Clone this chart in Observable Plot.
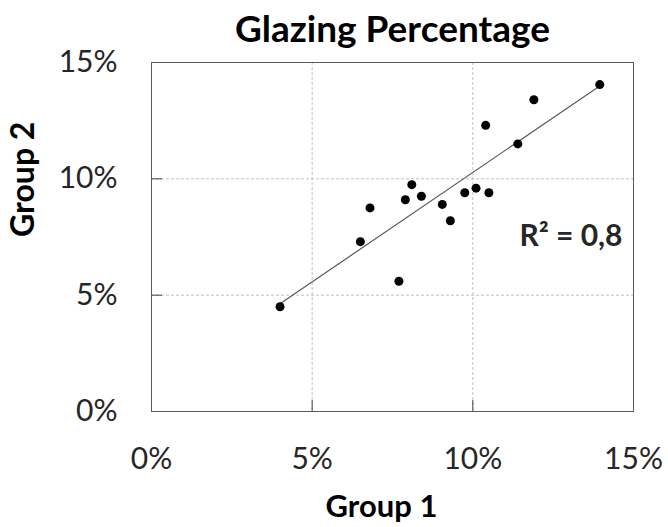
<!DOCTYPE html>
<html>
<head>
<meta charset="utf-8">
<script src="https://cdn.jsdelivr.net/npm/d3@7"></script>
<script src="https://cdn.jsdelivr.net/npm/@observablehq/plot@0.6"></script>
<style>
  body { margin: 0; background: #fff; }
  #chart svg { display: block; }
</style>
</head>
<body>
<div id="chart"></div>
<script>
// Data (percent)
const group1 = [4.0, 6.5, 6.8, 7.7, 7.9, 8.1, 8.4, 9.05, 9.3, 9.75, 10.1, 10.5, 10.4, 11.4, 11.9, 13.95];
const group2 = [4.5, 7.3, 8.75, 5.6, 9.1, 9.75, 9.25, 8.9, 8.2, 9.4, 9.6, 9.4, 12.3, 11.5, 13.4, 14.05];
const xTicks = [0, 5, 10, 15];
const yTicks = [0, 5, 10, 15];
const titleText = ["Glazing Percentage"];
const xLabel = ["Group 1"];
const yLabel = ["Group 2"];
const r2Label = ["R² = 0,8"];

const data = group1.map((x, i) => ({x, y: group2[i]}));
const pct = d => d + "%";
const inner = t => t.slice(1, -1);

const W = 668, H = 527, ML = 151, MR = 35, MT = 62, MB = 116;
const TICK = 11;

const plot = Plot.plot({
  width: W,
  height: H,
  marginLeft: ML,
  marginRight: MR,
  marginTop: MT,
  marginBottom: MB,
  style: {fontFamily: "Lato, sans-serif", color: "#262626", background: "#fff", overflow: "visible"},
  x: {domain: [0, 15]},
  y: {domain: [0, 15]},
  marks: [
    Plot.gridX(inner(xTicks), {stroke: "#bfbfbf", strokeOpacity: 1, strokeDasharray: "3,2"}),
    Plot.gridY(inner(yTicks), {stroke: "#bfbfbf", strokeOpacity: 1, strokeDasharray: "3,2"}),
    // inward tick marks
    Plot.ruleX(inner(xTicks), {x: d => d, stroke: "#404040", insetTop: (H - MT - MB) - TICK}),
    Plot.ruleY(inner(yTicks), {y: d => d, stroke: "#404040", insetRight: (W - ML - MR) - TICK}),
    Plot.frame({stroke: "#595959"}),
    Plot.axisX(xTicks, {tickSize: 0, tickPadding: 36, tickFormat: pct, fontSize: 30, label: null}),
    Plot.axisY(yTicks, {tickSize: 0, tickPadding: 34, tickFormat: pct, fontSize: 30, label: null}),
    Plot.linearRegressionY(data, {x: "x", y: "y", stroke: "#595959", strokeWidth: 1.2, ci: 0}),
    Plot.dot(data, {x: "x", y: "y", r: 4.5, fill: "black"}),
    Plot.text(titleText, {frameAnchor: "top", lineAnchor: "middle", dy: -32, fontSize: 37, fontWeight: "bold", fill: "black"}),
    Plot.text(xLabel, {frameAnchor: "bottom", lineAnchor: "middle", dx: -11, dy: 96, fontSize: 31, fontWeight: "bold", fill: "black"}),
    Plot.text(yLabel, {frameAnchor: "left", lineAnchor: "middle", dx: -128, rotate: -90, fontSize: 32, fontWeight: "bold", fill: "black"}),
    Plot.text(r2Label, {frameAnchor: "right", lineAnchor: "middle", textAnchor: "end", dx: -11, dy: -1, fontSize: 30, fontWeight: "bold", fill: "#262626"})
  ]
});
document.getElementById("chart").appendChild(plot);
</script>
</body>
</html>
